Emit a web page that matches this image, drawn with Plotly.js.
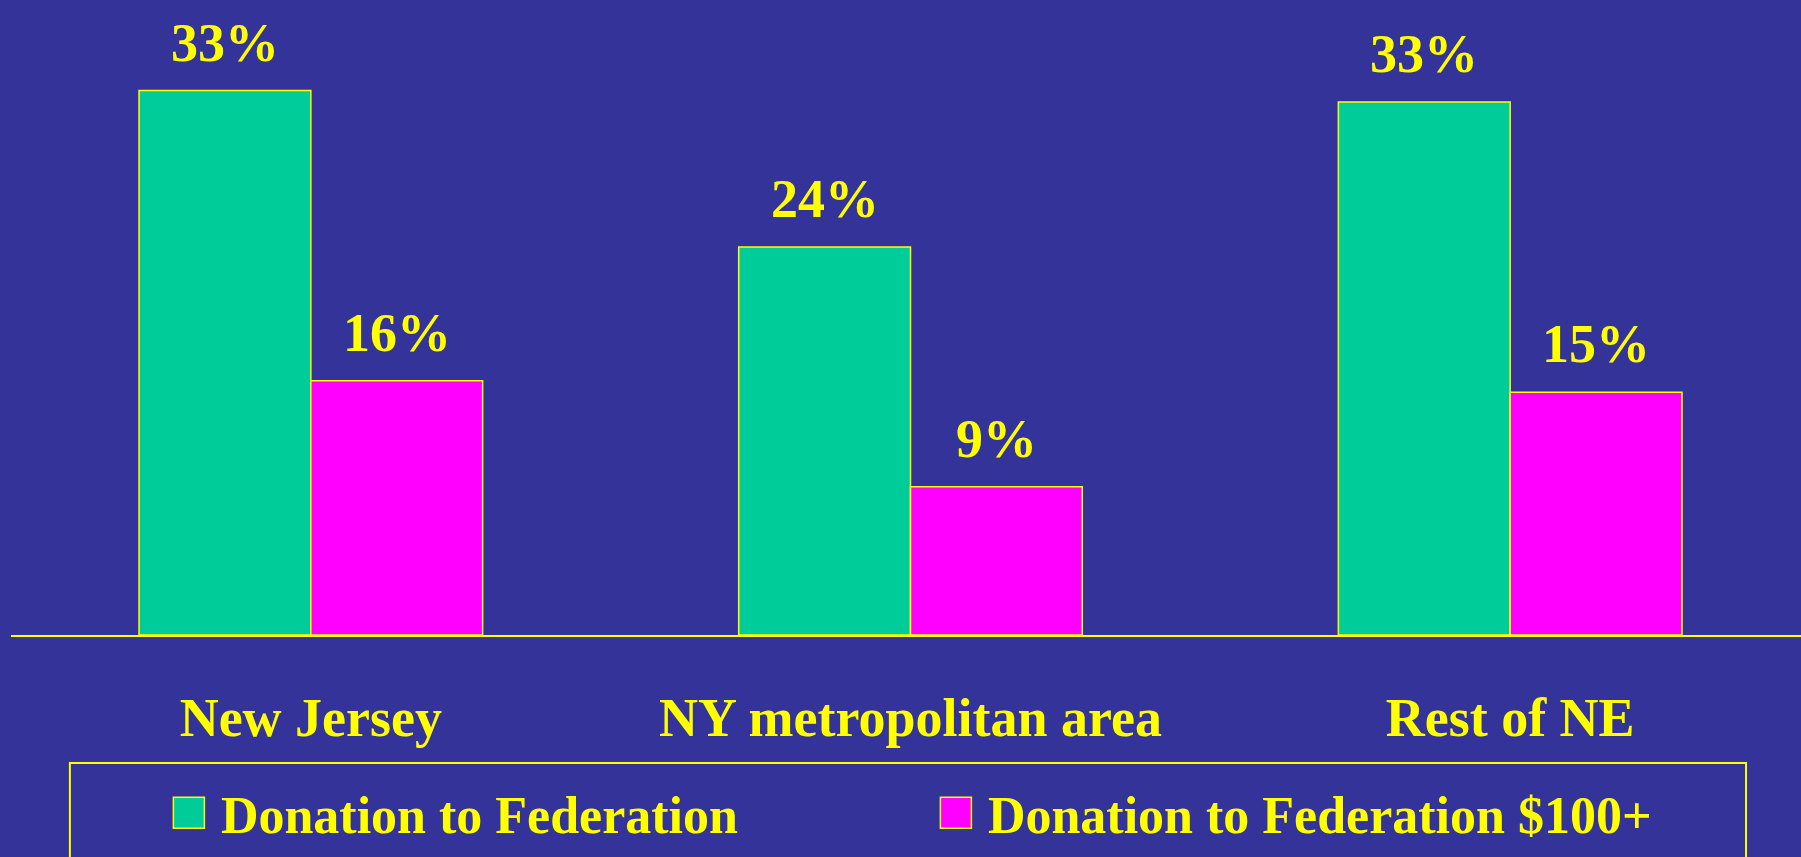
<!DOCTYPE html>
<html>
<head>
<meta charset="utf-8">
<script src="https://cdn.plot.ly/plotly-3.0.1.min.js"></script>
<style>
  body { margin: 0; background: #333399; }
  #plot { width: 1801px; height: 857px; }
</style>
</head>
<body>
<div id="plot"></div>
<script>
// Values
const regions = ['New Jersey', 'NY metropolitan area', 'Rest of NE'];
const seriesNames = ['Donation to Federation', 'Donation to Federation $100+'];
const donation = [33.4, 23.8, 32.7];
const donation100 = [15.6, 9.1, 14.9];
const donationLabels = ['33%', '24%', '33%'];
const donation100Labels = ['16%', '9%', '15%'];

const yellow = '#FFFF00';
const serif = 'Liberation Serif, Times New Roman, serif';

let trace1 = {
    type: 'bar',
    x: regions,
    y: donation,
    name: seriesNames[0],
    marker: {color: '#00CC99', line: {color: yellow, width: 1.5}},
    hoverinfo: 'skip'
};

let trace2 = {
    type: 'bar',
    x: regions,
    y: donation100,
    name: seriesNames[1],
    marker: {color: '#FF00FF', line: {color: yellow, width: 1.5}},
    hoverinfo: 'skip'
};

// percentage labels above each bar
let annotations = [];
[[donation, donationLabels, -0.1433], [donation100, donation100Labels, 0.1433]].forEach(function(s) {
    regions.forEach(function(r, j) {
        annotations.push({
            x: j + s[2], y: s[0][j], xref: 'x', yref: 'y',
            text: s[1][j], showarrow: false,
            yanchor: 'bottom', yshift: 16,
            font: {family: serif, size: 54, color: yellow, weight: 'bold'}
        });
    });
});

let layout = {
    paper_bgcolor: '#333399',
    plot_bgcolor: '#333399',
    margin: {l: 11, r: 0, t: 0, b: 222},
    bargap: 0.427,
    bargroupgap: 0,
    showlegend: true,
    xaxis: {
        type: 'category',
        range: [-0.5, 2.485],
        showline: true, linecolor: yellow, linewidth: 2,
        showgrid: false, zeroline: false,
        ticks: '', ticklabelstandoff: 34,
        tickfont: {family: serif, size: 54, color: yellow, weight: 'bold'},
        fixedrange: true
    },
    yaxis: {
        range: [0, 38.96],
        visible: false,
        fixedrange: true
    },
    legend: {
        orientation: 'h',
        x: 0.0815, xanchor: 'left',
        y: -0.2803, yanchor: 'middle',
        bgcolor: 'rgba(0,0,0,0)',
        borderwidth: 0,
        itemwidth: 54,
        entrywidth: 698,
        font: {family: serif, size: 52, color: yellow, weight: 'bold'}
    },
    shapes: [{
        type: 'rect', xref: 'paper', yref: 'paper',
        x0: 0.0329, x1: 0.9693, y0: -0.2016, y1: -0.40,
        line: {color: yellow, width: 2}
    }],
    annotations: annotations
};

Plotly.newPlot('plot', [trace1, trace2], layout, {staticPlot: true, displayModeBar: false}).then(function(gd) {
    // bigger legend swatches like the slide
    gd.querySelectorAll('.legendpoints path').forEach(function(p) {
        p.setAttribute('d', 'M15.5,15.5H-15.5V-15.5H15.5Z');
    });
});
</script>
</body>
</html>
